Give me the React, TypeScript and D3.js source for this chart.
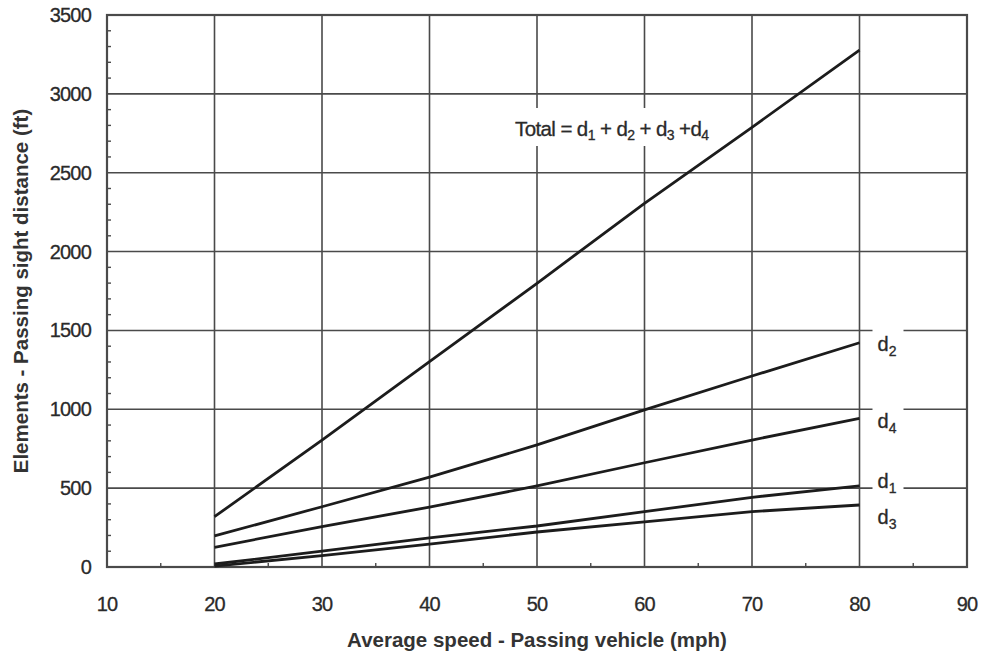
import React, { useEffect } from 'react'
import * as d3ns from 'd3'

// some bundles expose d3 under .default
const d3: typeof d3ns = (d3ns as any).scaleLinear ? d3ns : (d3ns as any).default

// speeds (mph)
const speeds = [20, 30, 40, 50, 60, 70, 80]

const total = [319, 805, 1302, 1799, 2306, 2788, 3278]
const d2 = [197, 382, 570, 774, 996, 1211, 1422]
const d4 = [125, 256, 380, 514, 661, 805, 943]
const d1 = [19, 100, 185, 260, 351, 442, 514]
const d3v = [6, 72, 145, 222, 286, 351, 393]

const xTicks = [10, 20, 30, 40, 50, 60, 70, 80, 90]
const yTicks = [0, 500, 1000, 1500, 2000, 2500, 3000, 3500]

const series = [
  { key: 'total', values: total },
  { key: 'd2', values: d2, sub: '2' },
  { key: 'd4', values: d4, sub: '4' },
  { key: 'd1', values: d1, sub: '1' },
  { key: 'd3', values: d3v, sub: '3' },
]

// vertical nudge of the end labels (px), so d1 / d3 don't collide
const labelNudge: Record<string, number> = { d2: 8, d4: 10, d1: 2, d3: 19 }

const W = 988
const H = 662
const margin = { top: 15, right: 21, bottom: 95, left: 107 }
const FONT = "'Liberation Sans', Arial, Helvetica, sans-serif"
const GRID = '#4a4a4a'
const INK = '#1c1c1c'
const TXT = '#2a2a2a'

export default function App() {
  useEffect(() => {
    document.body.style.margin = '0'
  }, [])

  const x = d3.scaleLinear().domain([10, 90]).range([margin.left, W - margin.right])
  const y = d3.scaleLinear().domain([0, 3500]).range([H - margin.bottom, margin.top])

  const line = d3
    .line<number>()
    .x((_, i) => x(speeds[i]))
    .y((d) => y(d))

  const minorY = d3.range(0, 3500, 100).filter((v) => v % 500 !== 0)
  const minorX = d3.range(15, 90, 10)

  const [x0, x1] = x.range()
  const [y0, y1] = y.range()
  const lastX = x(speeds[speeds.length - 1])

  return (
    <svg width={W} height={H} style={{ display: 'block', background: '#fff' }} fontFamily={FONT}>
      {/* grid */}
      <g stroke={GRID} strokeWidth={1.6}>
        {xTicks.slice(1, -1).map((t) => (
          <line key={'gx' + t} x1={x(t)} x2={x(t)} y1={y0} y2={y1} />
        ))}
        {yTicks.slice(1, -1).map((t) => (
          <line key={'gy' + t} x1={x0} x2={x1} y1={y(t)} y2={y(t)} />
        ))}
      </g>

      {/* minor ticks, inward */}
      <g stroke={GRID} strokeWidth={1.4}>
        {minorY.map((t) => (
          <line key={'my' + t} x1={x0} x2={x0 + 4} y1={y(t)} y2={y(t)} />
        ))}
        {minorX.map((t) => (
          <line key={'mx' + t} x1={x(t)} x2={x(t)} y1={y0} y2={y0 - 4} />
        ))}
      </g>

      {/* white patches where labels break the grid */}
      <rect x={510} y={108} width={220} height={38} fill="#fff" />
      {series.slice(1).map((s) => {
        const yy = y(s.values[s.values.length - 1]) + labelNudge[s.key]
        return <rect key={'bg' + s.key} x={lastX + 13} y={yy - 22} width={31} height={28} fill="#fff" />
      })}

      {/* frame */}
      <rect x={x0} y={y1} width={x1 - x0} height={y0 - y1} fill="none" stroke={GRID} strokeWidth={2.2} />

      {/* series */}
      <g fill="none" stroke={INK} strokeWidth={2.8} strokeLinejoin="round">
        {series.map((s) => (
          <path key={s.key} d={line(s.values) || ''} />
        ))}
      </g>

      {/* end labels */}
      <g fill={TXT} fontSize={20} stroke={TXT} strokeWidth={0.3}>
        {series.slice(1).map((s) => {
          const yy = y(s.values[s.values.length - 1]) + labelNudge[s.key]
          return (
            <text key={'lb' + s.key} x={lastX + 18} y={yy}>
              d
              <tspan fontSize={14} dy={5}>
                {s.sub}
              </tspan>
            </text>
          )
        })}
      </g>

      <text x={515} y={136} fontSize={20.5} fill={TXT} stroke={TXT} strokeWidth={0.3} letterSpacing={-0.6}>
        Total = d<tspan fontSize={14} dy={4}>1</tspan>
        <tspan dy={-4}> + d</tspan>
        <tspan fontSize={14} dy={4}>2</tspan>
        <tspan dy={-4}> + d</tspan>
        <tspan fontSize={14} dy={4}>3</tspan>
        <tspan dy={-4}> +d</tspan>
        <tspan fontSize={14} dy={4}>4</tspan>
      </text>

      {/* tick labels */}
      <g fill={TXT} stroke={TXT} strokeWidth={0.3} fontSize={20} letterSpacing={-0.8}>
        {yTicks.map((t) => (
          <text key={'yl' + t} x={x0 - 16} y={y(t)} dy="0.35em" textAnchor="end">
            {t}
          </text>
        ))}
        {xTicks.map((t) => (
          <text key={'xl' + t} x={x(t)} y={y0 + 44} textAnchor="middle">
            {t}
          </text>
        ))}
      </g>

      {/* axis titles */}
      <text x={(x0 + x1) / 2} y={H - 15} textAnchor="middle" fontSize={20.5} fontWeight="bold" fill="#333">
        Average speed - Passing vehicle (mph)
      </text>
      <text
        transform={`translate(28,${(y0 + y1) / 2}) rotate(-90)`}
        textAnchor="middle"
        fontSize={20.5}
        fontWeight="bold"
        fill="#333"
      >
        Elements - Passing sight distance (ft)
      </text>
    </svg>
  )
}
